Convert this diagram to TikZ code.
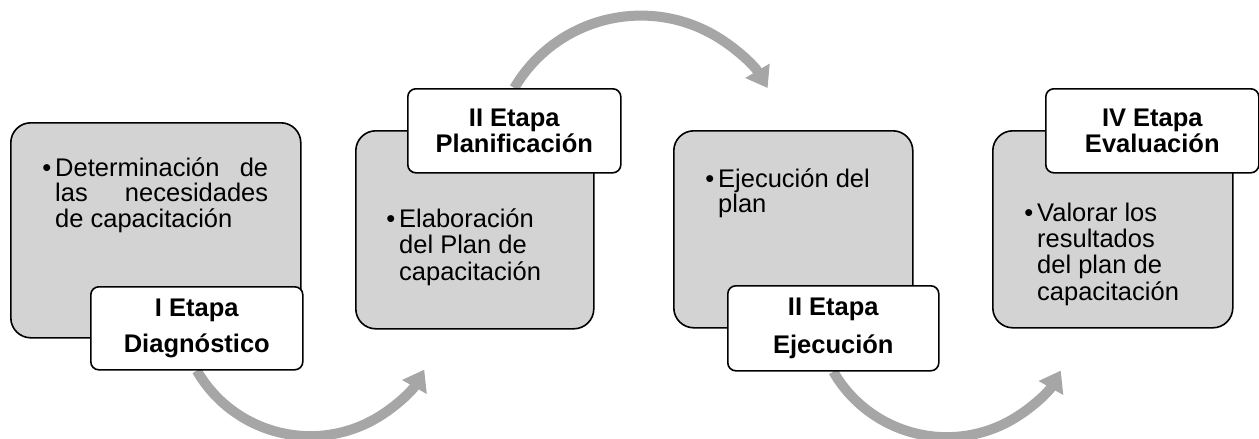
\documentclass[tikz,border=0pt]{standalone}
\usepackage{fontspec}
\setmainfont{Liberation Sans}
\usetikzlibrary{arrows.meta}
\definecolor{boxgray}{HTML}{D3D3D3}
\definecolor{arrgray}{HTML}{A6A6A6}
\pgfdeclarelayer{background}
\pgfsetlayers{background,main}
\newcommand{\bul}{\leavevmode\llap{\textbullet\hspace{4pt}}}
\begin{document}
\begin{tikzpicture}[x=1pt,y=-1pt,
  gbox/.style={draw=black, line width=1.6pt, fill=boxgray, rounded corners=20pt,
    inner sep=0pt, anchor=north west},
  lbox/.style={draw=black, line width=1.6pt, fill=white, rounded corners=8pt,
    inner sep=0pt, anchor=north west, align=center},
  body/.style={inner sep=0pt, anchor=base west},
  flow/.style={draw=arrgray, line width=10pt, -{Triangle[length=20pt,width=27pt]}}]
\useasboundingbox (0,0) rectangle (1259,439);

% stage boxes
\node[gbox, minimum width=290pt, minimum height=215pt] (b1) at (10,122) {};
\node[gbox, minimum width=238pt, minimum height=198pt] (b2) at (355,130) {};
\node[gbox, minimum width=239pt, minimum height=197pt] (b3) at (673,130) {};
\node[gbox, minimum width=240pt, minimum height=197pt] (b4) at (992,130) {};

% body texts
\node[body] (t1) at (55,176) {\parbox[t]{213pt}{\fontsize{25.5}{25.8}\selectfont
  \bul Determinación\hfill de\\ las\hfill necesidades\\ de capacitación}};
\node[body] (t2) at (399,227) {\parbox[t]{180pt}{\raggedright\fontsize{25.5}{26.5}\selectfont
  \bul Elaboración\\ del Plan de\\ capacitación}};
\node[body] (t3) at (718,187) {\parbox[t]{180pt}{\raggedright\fontsize{25.5}{25}\selectfont
  \bul Ejecución del\\ plan}};
\node[body] (t4) at (1037,221) {\parbox[t]{180pt}{\raggedright\fontsize{25.5}{26.4}\selectfont
  \bul Valorar los\\ resultados\\ del plan de\\ capacitación}};

% stage labels
\node[lbox, minimum width=212pt, minimum height=83pt,
  font=\fontsize{25.5}{36}\selectfont\bfseries] (l1) at (90,286) {I Etapa\\ Diagnóstico};
\node[lbox, minimum width=213pt, minimum height=84pt,
  font=\fontsize{25.5}{26}\selectfont\bfseries] (l2) at (407,88) {II Etapa\\ Planificación};
\node[lbox, minimum width=211pt, minimum height=85pt,
  font=\fontsize{25.5}{38}\selectfont\bfseries] (l3) at (727,285) {II Etapa\\ Ejecución};
\node[lbox, minimum width=213pt, minimum height=84pt,
  font=\fontsize{25.5}{26}\selectfont\bfseries] (l4) at (1045,88) {IV Etapa\\ Evaluación};

% curved arrows
\begin{pgfonlayer}{background}
\draw[flow] (l1.south) arc[start angle=150, end angle=29.5, radius=131];
\draw[flow] (l2.north) arc[start angle=210.5, end angle=329.5, radius=147];
\draw[flow] (l3.south) arc[start angle=150, end angle=29.5, radius=131];
\end{pgfonlayer}
\end{tikzpicture}
\end{document}
